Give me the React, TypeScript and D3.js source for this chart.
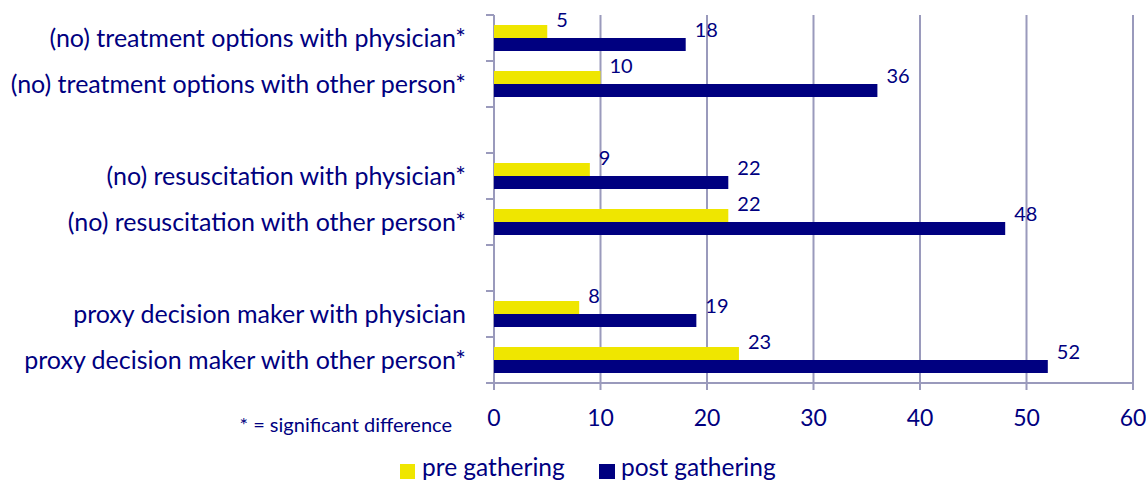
import React from 'react';
import * as d3 from 'd3';

// categories top to bottom, with empty slots between the three groups
const categories = [
  '(no) treatment options with physician*',
  '(no) treatment options with other person*',
  '',
  '(no) resuscitation with physician*',
  '(no) resuscitation with other person*',
  ' ',
  'proxy decision maker with physician',
  'proxy decision maker with other person*',
];
const preValues = [5, 10, null, 9, 22, null, 8, 23];
const postValues = [18, 36, null, 22, 48, null, 19, 52];
const seriesNames = ['pre gathering', 'post gathering'];
const xTicks = [0, 10, 20, 30, 40, 50, 60];

const W = 1146;
const H = 483;
const navy = '#000080';
const yellow = '#EFE600';
const gridColor = '#9A9ABC';
const font = 'Lato, "Open Sans", sans-serif';

const App = () => {
  const x = d3.scaleLinear().domain([0, 60]).range([494, 1133]);
  const y = d3.scaleBand().domain(categories).range([15, 383]).padding(0);
  const inner = d3
    .scaleBand()
    .domain(seriesNames)
    .range([0, y.bandwidth()])
    .paddingInner(0)
    .paddingOuter(0.77);

  const rows = categories.map((c, i) => ({ cat: c, pre: preValues[i], post: postValues[i] }));
  const slotEdges = categories.map((c) => y(c)).concat([y.range()[1]]);

  return (
    <svg width={W} height={H} style={{ position: 'absolute', left: 0, top: 0 }} fontFamily={font}>
      <rect width={W} height={H} fill="#fff" />
      {/* vertical gridlines */}
      {xTicks.slice(1).map((t) => (
        <line key={t} x1={x(t)} x2={x(t)} y1={15} y2={390} stroke={gridColor} strokeWidth={2} />
      ))}
      {/* axes */}
      <line x1={x(0)} x2={x(0)} y1={15} y2={390} stroke={gridColor} strokeWidth={2} />
      <line x1={x(0)} x2={x(60)} y1={383} y2={383} stroke={gridColor} strokeWidth={2} />
      {slotEdges.map((e, i) => (
        <line key={i} x1={486} x2={x(0)} y1={e} y2={e} stroke={gridColor} strokeWidth={2} />
      ))}
      {/* bars */}
      {rows.map((r, i) =>
        r.pre == null ? null : (
          <g key={i}>
            <rect
              x={x(0)}
              y={y(r.cat)! + inner(seriesNames[0])!}
              width={x(r.pre) - x(0)}
              height={inner.bandwidth()}
              fill={yellow}
            />
            <rect
              x={x(0)}
              y={y(r.cat)! + inner(seriesNames[1])!}
              width={x(r.post!) - x(0)}
              height={inner.bandwidth()}
              fill={navy}
            />
            <text x={x(r.pre) + 9} y={y(r.cat)! + inner(seriesNames[0])! + 2} fontSize={20} fill={navy}>
              {r.pre}
            </text>
            <text x={x(r.post!) + 9} y={y(r.cat)! + inner(seriesNames[1])! - 1} fontSize={20} fill={navy}>
              {r.post}
            </text>
          </g>
        )
      )}
      {/* category labels */}
      {categories.map((c, i) =>
        c.trim() === '' ? null : (
          <text
            key={i}
            x={466}
            y={y(c)! + y.bandwidth() / 2}
            dy="0.35em"
            textAnchor="end"
            fontSize={25}
            fill={navy}
          >
            {c}
          </text>
        )
      )}
      {/* x tick labels */}
      {xTicks.map((t) => (
        <text key={t} x={x(t)} y={426} textAnchor="middle" fontSize={23} fill={navy}>
          {t}
        </text>
      ))}
      <text x={452} y={432} textAnchor="end" fontSize={20} fill={navy}>
        * = significant difference
      </text>
      {/* legend */}
      <rect x={400} y={464} width={15} height={15} fill={yellow} />
      <text x={422} y={476} fontSize={24.5} fill={navy}>
        {seriesNames[0]}
      </text>
      <rect x={599} y={464} width={16} height={15} fill={navy} />
      <text x={621} y={476} fontSize={24.5} fill={navy}>
        {seriesNames[1]}
      </text>
    </svg>
  );
};

export default App;
